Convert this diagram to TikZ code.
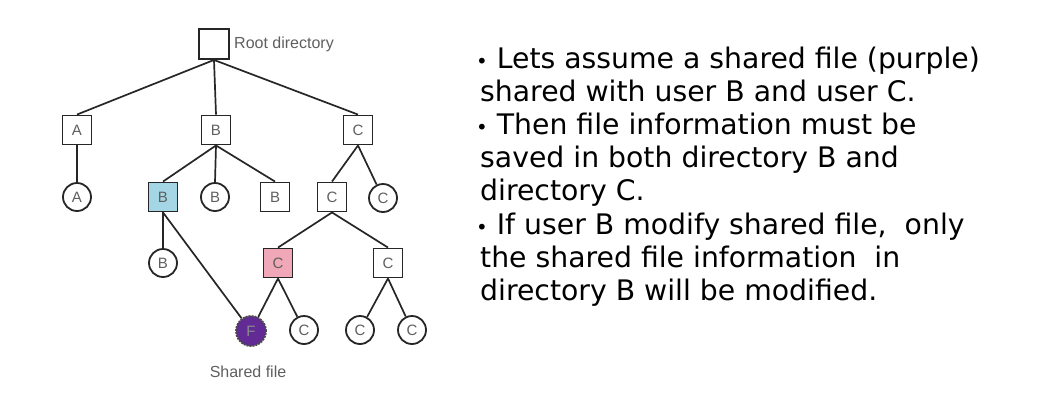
\documentclass[tikz,border=0pt]{standalone}
\usepackage{fontspec}
\setmainfont{DejaVu Sans}
\newfontfamily\labelfont{Liberation Sans}
\definecolor{boxblue}{RGB}{164,214,230}
\definecolor{boxpink}{RGB}{240,168,184}
\definecolor{filepurple}{RGB}{98,42,148}
\definecolor{lbl}{RGB}{95,95,95}
\begin{document}
\begin{tikzpicture}[x=1pt,y=-1pt,
  dirbox/.style={draw=black!85,line width=1.9pt,minimum size=29pt,inner sep=0pt,
    font=\labelfont\fontsize{15}{15}\selectfont,text=lbl},
  rootbox/.style={dirbox,minimum size=30pt},
  filec/.style={circle,draw=black!85,line width=1.8pt,minimum size=28pt,inner sep=0pt,
    font=\labelfont\fontsize{15}{15}\selectfont,text=lbl},
  edge/.style={draw=black!85,line width=1.7pt},
  captext/.style={font=\labelfont\fontsize{16}{16}\selectfont,text=lbl,inner sep=0pt},
  txt/.style={anchor=base west,inner sep=0pt,font=\fontsize{28.3}{33}\selectfont}]
\useasboundingbox (0,0) rectangle (1050,402);
% nodes
\node[rootbox] (root) at (214,44) {};
\node[captext,anchor=west] (rootlbl) at (234,44) {Root directory};
\node[dirbox] (A1) at (77,130) {A};
\node[dirbox] (B1) at (216,130) {B};
\node[dirbox] (C1) at (358,130) {C};
\node[filec] (Ac) at (77,197) {A};
\node[dirbox,fill=boxblue] (Bb) at (163,197) {B};
\node[filec] (Bc) at (215,197) {B};
\node[dirbox] (Bs) at (275,197) {B};
\node[dirbox] (Cs) at (332,197) {C};
\node[filec] (Cc) at (383,198) {C};
\node[filec] (Bc3) at (163,263) {B};
\node[dirbox,fill=boxpink] (Cp) at (278,263) {C};
\node[dirbox] (Cs3) at (388,263) {C};
\node[filec,fill=filepurple,draw=black!70,dash pattern=on 2pt off 1pt,minimum size=30pt,text=black!45] (F) at (251,331) {F};
\node[filec] (Cc4a) at (304,330) {C};
\node[filec] (Cc4b) at (360,330) {C};
\node[filec] (Cc4c) at (412,330) {C};
\node[captext] (shlbl) at (248,372) {Shared file};
% edges
\path[edge] (root.south) -- (A1.north);
\path[edge] (root.south) -- (B1.north);
\path[edge] (root.south) -- (C1.north);
\path[edge] (A1.south) -- (Ac.north);
\path[edge] (B1.south) -- (Bb.north);
\path[edge] (B1.south) -- (Bc.north);
\path[edge] (B1.south) -- (Bs.north);
\path[edge] (C1.south) -- (Cs.north);
\path[edge] (C1.south) -- (Cc);
\path[edge] (Bb.south) -- (Bc3.north);
\path[edge] (Bb.south) -- (F);
\path[edge] (Cs.south) -- (Cp.north);
\path[edge] (Cs.south) -- (Cs3.north);
\path[edge] (Cp.south) -- (F);
\path[edge] (Cp.south) -- (Cc4a);
\path[edge] (Cs3.south) -- (Cc4b);
\path[edge] (Cs3.south) -- (Cc4c);
% text
\node[txt] (t1) at (476,68) {\scalebox{0.7}{•} Lets assume a shared file (purple)};
\node[txt] (t2) at (480,101) {shared with user B and user C.};
\node[txt] (t3) at (476,134) {\scalebox{0.7}{•} Then file information must be};
\node[txt] (t4) at (480,167) {saved in both directory B and};
\node[txt] (t5) at (480,200) {directory C.};
\node[txt] (t6) at (476,234) {\scalebox{0.7}{•} If user B modify shared file,\ \ only};
\node[txt] (t7) at (480,267) {the shared file information\ \ in};
\node[txt] (t8) at (480,300) {directory B will be modified.};
\end{tikzpicture}
\end{document}
